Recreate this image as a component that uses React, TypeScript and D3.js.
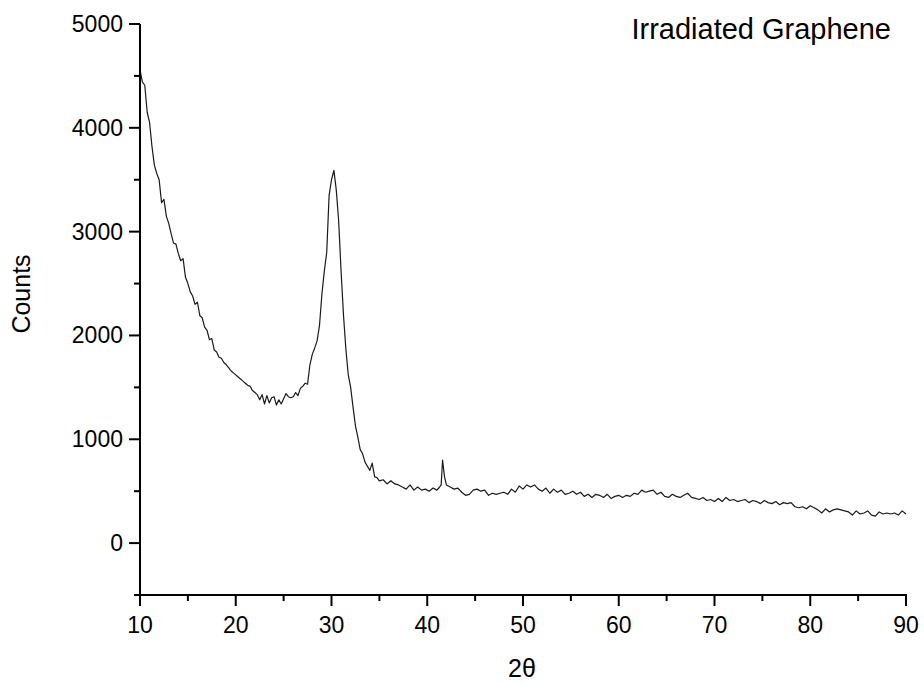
import React from "react";
import * as d3 from "d3";

const TITLE = "Irradiated Graphene";
const X_LABEL = "2θ";
const Y_LABEL = "Counts";
const X_TICKS = [10, 20, 30, 40, 50, 60, 70, 80, 90];
const Y_TICKS = [0, 1000, 2000, 3000, 4000, 5000];
const X_MINOR = [15, 25, 35, 45, 55, 65, 75, 85];
const Y_MINOR = [-500, 500, 1500, 2500, 3500, 4500];

const ANGLE: number[] = [
  10.0, 10.25, 10.5, 10.75, 11.0, 11.25, 11.5, 11.75, 12.0, 12.25, 12.5, 12.75,
  13.0, 13.25, 13.5, 13.75, 14.0, 14.25, 14.5, 14.75, 15.0, 15.25, 15.5, 15.75,
  16.0, 16.25, 16.5, 16.75, 17.0, 17.25, 17.5, 17.75, 18.0, 18.25, 18.5, 18.75,
  19.0, 19.25, 19.5, 19.75, 20.0, 20.25, 20.5, 20.75, 21.0, 21.25, 21.5, 21.75,
  22.0, 22.25, 22.5, 22.75, 23.0, 23.25, 23.5, 23.75, 24.0, 24.25, 24.5, 24.75,
  25.0, 25.25, 25.5, 25.75, 26.0, 26.25, 26.5, 26.75, 27.0, 27.25, 27.5, 27.75,
  28.0, 28.25, 28.5, 28.75, 29.0, 29.25, 29.5, 29.75, 30.0, 30.25, 30.5, 30.75,
  31.0, 31.25, 31.5, 31.75, 32.0, 32.25, 32.5, 32.75, 33.0, 33.25, 33.5, 33.75,
  34.0, 34.25, 34.5, 34.75, 35.0,
  35.4, 35.8, 36.2, 36.6, 37.0, 37.4, 37.8, 38.2, 38.6, 39.0, 39.4, 39.8,
  40.2, 40.6, 41.0, 41.3, 41.45, 41.6, 41.8, 42.0, 42.4, 42.8, 43.2, 43.6,
  44.0, 44.4, 44.8, 45.2, 45.6, 46.0, 46.4, 46.8, 47.2, 47.6, 48.0, 48.4,
  48.8, 49.2, 49.6, 50.0, 50.4, 50.8, 51.2, 51.6, 52.0, 52.4, 52.8, 53.2,
  53.6, 54.0, 54.4, 54.8, 55.2, 55.6, 56.0, 56.4, 56.8, 57.2, 57.6, 58.0,
  58.4, 58.8, 59.2, 59.6, 60.0, 60.4, 60.8, 61.2, 61.6, 62.0, 62.4, 62.8,
  63.2, 63.6, 64.0, 64.4, 64.8, 65.2, 65.6, 66.0, 66.4, 66.8, 67.2, 67.6,
  68.0, 68.4, 68.8, 69.2, 69.6, 70.0, 70.4, 70.8, 71.2, 71.6, 72.0, 72.4,
  72.8, 73.2, 73.6, 74.0, 74.4, 74.8, 75.2, 75.6, 76.0, 76.4, 76.8, 77.2,
  77.6, 78.0, 78.4, 78.8, 79.2, 79.6, 80.0, 80.4, 80.8, 81.2, 81.6, 82.0,
  82.4, 82.8, 83.2, 83.6, 84.0, 84.4, 84.8, 85.2, 85.6, 86.0, 86.4, 86.8,
  87.2, 87.6, 88.0, 88.4, 88.8, 89.2, 89.6, 90.0,
];

const COUNTS: number[] = [
  4560, 4440, 4410, 4150, 4050, 3820, 3640, 3560, 3500, 3280, 3310, 3150,
  3080, 2980, 2890, 2880, 2790, 2720, 2740, 2560, 2500, 2420, 2380, 2300,
  2320, 2190, 2170, 2080, 2050, 1960, 1970, 1860, 1840, 1790, 1780, 1740,
  1720, 1690, 1660, 1640, 1620, 1600, 1580, 1560, 1540, 1520, 1510, 1470,
  1450, 1430, 1380, 1430, 1340, 1420, 1350, 1400, 1410, 1330, 1380, 1340,
  1390, 1440, 1410, 1400, 1410, 1450, 1420, 1490, 1510, 1540, 1530, 1720,
  1820, 1880, 1950, 2100, 2400, 2620, 2800, 3350, 3500, 3590, 3400, 3100,
  2620, 2200, 1870, 1620, 1500, 1310, 1130, 1020, 900, 860, 780, 740,
  700, 770, 640, 630, 600,
  610, 570, 600, 570, 560, 540, 520, 560, 510, 540, 510, 520,
  500, 530, 510, 540, 560, 800, 640, 560, 540, 520, 530, 490,
  460, 470, 510, 520, 500, 510, 460, 480, 470, 480, 490, 470,
  520, 490, 550, 520, 560, 540, 560, 520, 500, 530, 480, 520,
  490, 510, 470, 480, 500, 470, 490, 450, 470, 440, 470, 460,
  440, 470, 430, 450, 460, 440, 460, 450, 480, 470, 510, 490,
  500, 510, 470, 490, 450, 440, 470, 450, 440, 460, 480, 440,
  430, 420, 440, 410, 420, 400, 430, 400, 440, 410, 420, 400,
  410, 420, 390, 410, 400, 380, 410, 390, 380, 400, 370, 390,
  380, 390, 350, 340, 350, 330, 360, 340, 320, 290, 330, 300,
  320, 330, 320, 310, 300, 270, 310, 280, 290, 310, 270, 260,
  300, 280, 290, 280, 290, 270, 310, 280,
];

export default function App() {
  const W = 924;
  const H = 684;
  const x = d3.scaleLinear().domain([10, 90]).range([140, 906]);
  const y = d3.scaleLinear().domain([-500, 5000]).range([595, 24]);
  const pts = ANGLE.map((a, i) => [a, COUNTS[i]] as [number, number]);
  const line = d3
    .line<[number, number]>()
    .x((d) => x(d[0]))
    .y((d) => y(d[1]));
  const font = "Arial, 'Liberation Sans', Helvetica, sans-serif";
  const x0 = x(10);
  const y0 = y(-500);
  return (
    <svg
      width={W}
      height={H}
      style={{ position: "absolute", left: 0, top: 0, background: "#fff" }}
      fontFamily={font}
    >
      <rect x={0} y={0} width={W} height={H} fill="#fff" />
      <path d={line(pts) || ""} fill="none" stroke="#1a1a1a" strokeWidth={1.2} strokeLinejoin="round" />
      <line x1={x0} x2={x0} y1={y(5000)} y2={y0 + 1} stroke="#000" strokeWidth={2} />
      <line x1={x0 - 1} x2={x(90) + 1} y1={y0} y2={y0} stroke="#000" strokeWidth={2} />
      {Y_TICKS.map((t) => (
        <g key={"yt" + t}>
          <line x1={x0 - 11} x2={x0} y1={y(t)} y2={y(t)} stroke="#000" strokeWidth={2} />
          <text
            x={x0 - 17}
            y={y(t)}
            textAnchor="end"
            dominantBaseline="central"
            fontSize={23}
            fill="#000"
          >
            {t}
          </text>
        </g>
      ))}
      {Y_MINOR.map((t) => (
        <line key={"ym" + t} x1={x0 - 6} x2={x0} y1={y(t)} y2={y(t)} stroke="#000" strokeWidth={2} />
      ))}
      {X_TICKS.map((t) => (
        <g key={"xt" + t}>
          <line x1={x(t)} x2={x(t)} y1={y0} y2={y0 + 11} stroke="#000" strokeWidth={2} />
          <text x={x(t)} y={y0 + 38} textAnchor="middle" fontSize={23} fill="#000">
            {t}
          </text>
        </g>
      ))}
      {X_MINOR.map((t) => (
        <line key={"xm" + t} x1={x(t)} x2={x(t)} y1={y0} y2={y0 + 6} stroke="#000" strokeWidth={2} />
      ))}
      <text x={522} y={677} textAnchor="middle" fontSize={25} fill="#000">
        {X_LABEL}
      </text>
      <text
        transform={`translate(30,${294}) rotate(-90)`}
        textAnchor="middle"
        fontSize={25}
        fill="#000"
      >
        {Y_LABEL}
      </text>
      <text x={891} y={39} textAnchor="end" fontSize={29} fill="#000">
        {TITLE}
      </text>
    </svg>
  );
}
